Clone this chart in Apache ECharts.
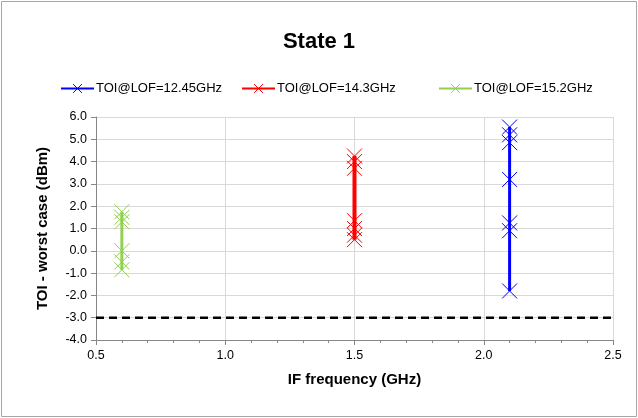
<!DOCTYPE html>
<html>
<head>
<meta charset="utf-8">
<script src="https://cdn.jsdelivr.net/npm/echarts@6/dist/echarts.min.js"></script>
<style>
html,body{margin:0;padding:0;background:#fff;}
#chart{width:638px;height:418px;}
</style>
</head>
<body>
<div id="chart"></div>
<script>
const titleText = 'State 1';
const seriesNames = ['TOI@LOF=12.45GHz', 'TOI@LOF=14.3GHz', 'TOI@LOF=15.2GHz'];
const seriesColors = ['#0000ff', '#ff0000', '#92d050'];
const seriesX = [2.1, 1.5, 0.6];
const blueValues = [5.55, 5.2, 4.85, 3.2, 1.25, 0.9, -1.8];
const redValues = [4.25, 4.0, 3.7, 1.35, 1.0, 0.7, 0.5];
const greenValues = [1.75, 1.5, 1.3, 0.0, -0.5, -0.85];
const limitX = [0.5, 2.5];
const limitY = -3.0;
const xAxisName = 'IF frequency (GHz)';
const yAxisName = 'TOI - worst case (dBm)';

const allValues = [blueValues, redValues, greenValues];
const FONT = 'Liberation Sans';
const xSymbol = 'path://M0,0L10,10M10,0L0,10';

const chart = echarts.init(document.getElementById('chart'), null, {renderer: 'canvas'});

const series = seriesNames.map((name, i) => ({
  name: name,
  type: 'line',
  data: allValues[i].map(v => [seriesX[i], v]),
  symbol: xSymbol,
  symbolSize: 15,
  showSymbol: true,
  lineStyle: {color: seriesColors[i], width: i === 1 ? 4 : 3},
  itemStyle: {color: seriesColors[i], borderColor: seriesColors[i], borderWidth: 1},
  z: 3
}));

series.push({
  name: 'limit',
  type: 'line',
  data: limitX.map(x => [x, limitY]),
  symbol: 'none',
  lineStyle: {color: '#000', width: 2.5, type: [8, 5]},
  itemStyle: {color: '#000'},
  z: 2,
  silent: true
});

const legendLefts = [55, 236, 433];
const legends = seriesNames.map((n, i) => ({
  data: [n],
  left: legendLefts[i],
  top: 77,
  itemWidth: 33,
  itemHeight: 11,
  itemGap: 2,
  lineStyle: {width: 2},
  itemStyle: {borderWidth: 1},
  textStyle: {fontFamily: FONT, fontSize: 13, color: '#000', padding: [0, 0, 0, -3]}
}));

chart.setOption({
  backgroundColor: '#fff',
  animation: false,
  title: {
    text: titleText,
    left: 'center',
    top: 26,
    textStyle: {fontFamily: FONT, fontWeight: 'bold', fontSize: 22, color: '#000'}
  },
  legend: legends,
  grid: {left: 96, right: 25, top: 117, bottom: 78},
  xAxis: {
    type: 'value',
    min: 0.5, max: 2.5, interval: 0.5,
    name: xAxisName,
    nameLocation: 'middle',
    nameGap: 32,
    nameTextStyle: {fontFamily: FONT, fontWeight: 'bold', fontSize: 15, color: '#000'},
    axisLine: {show: true, onZero: false, lineStyle: {color: '#868686', width: 1}},
    axisTick: {show: true, length: 5, lineStyle: {color: '#868686'}},
    minorTick: {show: true, splitNumber: 5, length: 3, lineStyle: {color: '#868686'}},
    axisLabel: {fontFamily: FONT, fontSize: 12.5, color: '#000', margin: 9, formatter: v => v.toFixed(1)},
    splitLine: {show: true, lineStyle: {color: '#d9d9d9', width: 1}}
  },
  yAxis: {
    type: 'value',
    min: -4, max: 6, interval: 1,
    name: yAxisName,
    nameLocation: 'middle',
    nameGap: 46,
    nameTextStyle: {fontFamily: FONT, fontWeight: 'bold', fontSize: 15, color: '#000'},
    axisLine: {show: true, onZero: false, lineStyle: {color: '#868686', width: 1}},
    axisTick: {show: true, length: 5, lineStyle: {color: '#868686'}},
    axisLabel: {fontFamily: FONT, fontSize: 12.5, color: '#000', margin: 9, formatter: v => v.toFixed(1)},
    splitLine: {show: true, lineStyle: {color: '#d9d9d9', width: 1}}
  },
  graphic: [{
    type: 'rect',
    shape: {x: 1.5, y: 1.5, width: 635, height: 415},
    style: {fill: 'none', stroke: '#a6a6a6', lineWidth: 1},
    silent: true,
    z: -10
  }],
  series: series
});
</script>
</body>
</html>
